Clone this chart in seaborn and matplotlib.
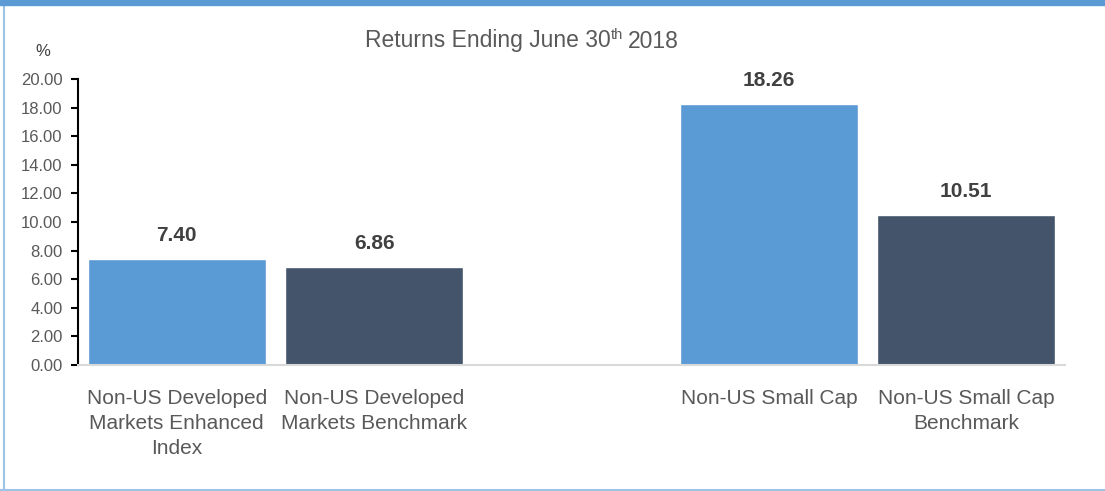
import matplotlib
matplotlib.use("Agg")
import matplotlib.pyplot as plt
import pandas as pd
import seaborn as sns
from matplotlib.lines import Line2D
from matplotlib.patches import Rectangle

# Data
CATEGORIES = [
    "Non-US Developed\nMarkets Enhanced\nIndex",
    "Non-US Developed\nMarkets Benchmark",
    "Non-US Small Cap",
    "Non-US Small Cap\nBenchmark",
]
RETURNS = [7.40, 6.86, 18.26, 10.51]
KIND = ["Fund", "Benchmark", "Fund", "Benchmark"]
Y_TICKS = [0, 2, 4, 6, 8, 10, 12, 14, 16, 18, 20]

BLUE = "#5B9BD5"
SLATE = "#44546A"
GREY_TEXT = "#595959"

sns.set_theme(style="white")
plt.rcParams["font.family"] = ["Liberation Sans", "DejaVu Sans"]

df = pd.DataFrame({"Category": CATEGORIES, "Return": RETURNS, "Kind": KIND})
# empty slot between the two groups
order = CATEGORIES[:2] + [" "] + CATEGORIES[2:]

fig = plt.figure(figsize=(11.05, 4.91), dpi=100)
W, H = 1105, 491
ax = fig.add_axes([78 / W, 1 - 365 / H, (1065 - 78) / W, (365 - 79) / H])

sns.barplot(
    data=df, x="Category", y="Return", hue="Kind", order=order,
    palette={"Fund": BLUE, "Benchmark": SLATE}, width=0.9,
    dodge=False, legend=False, ax=ax, saturation=1,
)

for cont in ax.containers:
    ax.bar_label(cont, fmt="%.2f", padding=10, fontsize=15,
                 color="#404040", fontweight="bold")

ax.set_ylim(0, 20)
ax.set_xlim(-0.5, 4.5)
ax.set_yticks(Y_TICKS)
ax.set_yticklabels([f"{v:.2f}" for v in Y_TICKS], fontsize=12, color=GREY_TEXT)
ax.set_xticks(range(len(order)))
ax.set_xticklabels(order, fontsize=15, color=GREY_TEXT, linespacing=1.4)
ax.tick_params(axis="x", length=0, pad=17)
ax.tick_params(axis="y", length=5, width=1.5, color="black", left=True, pad=6)
ax.set_xlabel("")
ax.set_ylabel("")

for side in ("top", "right"):
    ax.spines[side].set_visible(False)
ax.spines["left"].set_color("black")
ax.spines["left"].set_linewidth(1.5)
ax.spines["bottom"].set_color("#d9d9d9")
ax.spines["bottom"].set_linewidth(1.5)

fig.text(43 / W, 1 - 52 / H, "%", fontsize=12, color="#404040",
         ha="center", va="center")

# title with a small superscript "th"
title_y = 1 - 41 / H
t1 = fig.text(365 / W, title_y, "Returns Ending June 30", fontsize=16.5,
              color=GREY_TEXT, ha="left", va="center")
fig.canvas.draw()
bb = t1.get_window_extent()
t2 = fig.text(bb.x1 / W, title_y + 6 / H, "th", fontsize=10.5,
              color=GREY_TEXT, ha="left", va="center")
bb2 = t2.get_window_extent()
fig.text((bb2.x1 + 5) / W, title_y, "2018", fontsize=16.5,
         color=GREY_TEXT, ha="left", va="center")

# frame: thick blue band on top, thin lines left and bottom
fig.patches.append(Rectangle((0, 1 - 5 / H), 1, 5 / H, transform=fig.transFigure,
                             color=BLUE, zorder=5))
fig.lines.append(Line2D([3.5 / W, 3.5 / W], [0, 1], transform=fig.transFigure,
                        color="#9DC3E6", linewidth=1.5))
fig.lines.append(Line2D([0, 1], [1.5 / H, 1.5 / H], transform=fig.transFigure,
                        color="#9DC3E6", linewidth=1.5))

fig.savefig("out.png", dpi=100)
